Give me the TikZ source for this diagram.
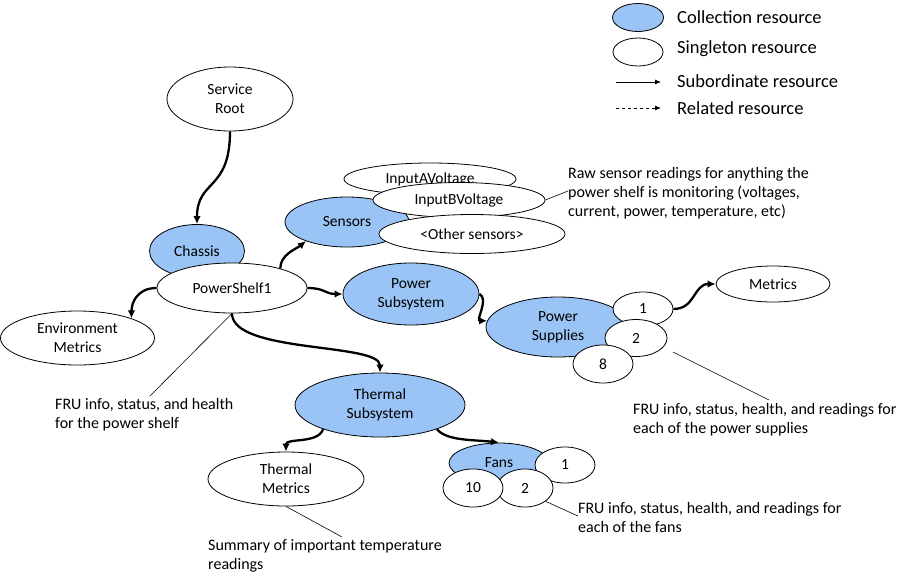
\documentclass[tikz,border=0pt]{standalone}
\usepackage{fontspec}
\setmainfont{Carlito}
\usetikzlibrary{shapes.geometric,arrows.meta}
\definecolor{collblue}{RGB}{153,196,245}
\begin{document}
\begin{tikzpicture}[x=1pt,y=-1pt,
  res/.style={ellipse, draw, line width=0.8pt, inner sep=0pt, align=center, font=\fontsize{15.5}{19}\selectfont, fill=white},
  coll/.style={res, fill=collblue},
  sub/.style={line width=2.3pt, -{Latex[length=8pt,width=7.5pt]}},
  note/.style={line width=0.6pt},
  txt/.style={anchor=west, align=left, inner sep=0pt, font=\fontsize{16}{19}\selectfont},
  legtxt/.style={anchor=west, inner sep=0pt, font=\fontsize{18.5}{22}\selectfont}]
\useasboundingbox[fill=white] (0,0) rectangle (910,584);

% legend
\node[coll, minimum width=51pt, minimum height=28pt] (lc) at (638,17.5) {};
\node[res, minimum width=50pt, minimum height=28pt] (ls) at (638,52) {};
\coordinate (la1) at (616,82);
\coordinate (la2) at (661,82);
\coordinate (lb1) at (616,108);
\coordinate (lb2) at (661,108);
\draw[line width=0.8pt, -{Latex[length=6pt,width=5pt]}] (la1) -- (la2);
\draw[line width=0.8pt, dashed, -{Latex[length=6pt,width=5pt]}] (lb1) -- (lb2);
\node[legtxt] (lct) at (677,17.5) {Collection resource};
\node[legtxt] (lst) at (677,49) {Singleton resource};
\node[legtxt] (lat) at (677,81) {Subordinate resource};
\node[legtxt] (lbt) at (677,108) {Related resource};

% nodes
\node[res, minimum width=126pt, minimum height=64pt] (sr) at (230,99) {Service\\Root};
\node[coll, minimum width=95pt, minimum height=53pt] (ch) at (197,251) {Chassis};
\node[res, minimum width=150pt, minimum height=50pt] (psh) at (232,288) {PowerShelf1};
\node[res, minimum width=154pt, minimum height=54pt] (env) at (77.5,338) {Environment\\Metrics};

\node[coll, minimum width=124pt, minimum height=50pt] (sen) at (347,222) {Sensors};
\node[res, minimum width=172pt, minimum height=32pt] (inA) at (430,179) {InputAVoltage};
\node[res, minimum width=172pt, minimum height=35pt] (inB) at (459,200) {InputBVoltage};
\node[res, minimum width=186pt, minimum height=39pt] (oth) at (472,234) {<Other sensors>};

\node[coll, minimum width=136pt, minimum height=62pt] (pss) at (411,294) {Power\\Subsystem};
\node[coll, minimum width=144pt, minimum height=60pt] (psu) at (558,327) {Power\\Supplies};
\node[res, minimum width=60pt, minimum height=34pt] (p1) at (643,309) {1};
\node[res, minimum width=62pt, minimum height=37pt] (p2) at (636,338) {2};
\node[res, minimum width=60pt, minimum height=38pt] (p8) at (603,364) {8};
\node[res, minimum width=114pt, minimum height=36pt] (met) at (773,284) {Metrics};

\node[coll, minimum width=170pt, minimum height=64pt] (ts) at (380,405) {Thermal\\Subsystem};
\node[res, minimum width=156pt, minimum height=54pt] (tm) at (286,479) {Thermal\\Metrics};
\node[coll, minimum width=100pt, minimum height=40pt] (fans) at (499,463) {Fans};
\node[res, minimum width=60pt, minimum height=36pt] (f1) at (565,465) {1};
\node[res, minimum width=56pt, minimum height=38pt] (f2) at (525,488) {2};
\node[res, minimum width=60pt, minimum height=38pt] (f10) at (473,488) {10};

% subordinate arrows
\draw[sub] (sr.south) .. controls +(0,60) and +(0,-45) .. (ch.north);
\draw[sub] (psh.west) .. controls +(-20,0) and +(0,-15) .. (env.20);
\draw[sub] (psh.22) .. controls +(0,-14) and +(-10,8) .. (sen.205);
\draw[sub] (psh.east) .. controls +(18,0) and +(-18,0) .. (pss.west);
\draw[sub] (pss.east) .. controls +(10,5) and +(-12,0) .. (psu.175);
\draw[sub] (p1.east) .. controls +(22,0) and +(-22,0) .. (met.west);
\draw[sub] (psh.south) .. controls +(0,40) and +(0,-30) .. (ts.north);
\draw[sub] (ts.203) .. controls +(-5,15) and +(0,-14) .. (tm.north);
\draw[sub] (ts.-23) .. controls +(10,12) and +(-25,-3) .. (fans.north);

% annotation lines
\coordinate (n1) at (150,396);
\draw[note] (psh.south) -- (n1);
\coordinate (n2) at (568,191);
\draw[note] (inB.east) -- (n2);
\coordinate (n3a) at (673,352);
\coordinate (n3b) at (769,400);
\draw[note] (n3a) -- (n3b);
\coordinate (n4) at (342,537);
\draw[note] (tm.south) -- (n4);
\coordinate (n5) at (578,516);
\draw[note] (f2.-33) -- (n5);

% annotation texts
\node[txt] (t1) at (55,414.5) {FRU info, status, and health\\for the power shelf};
\node[txt] (t2) at (568,193) {Raw sensor readings for anything the\\power shelf is monitoring (voltages,\\current, power, temperature, etc)};
\node[txt] (t3) at (633,419.5) {FRU info, status, health, and readings for\\each of the power supplies};
\node[txt] (t4) at (208,555.5) {Summary of important temperature\\readings};
\node[txt] (t5) at (578,517.5) {FRU info, status, health, and readings for\\each of the fans};
\end{tikzpicture}
\end{document}
